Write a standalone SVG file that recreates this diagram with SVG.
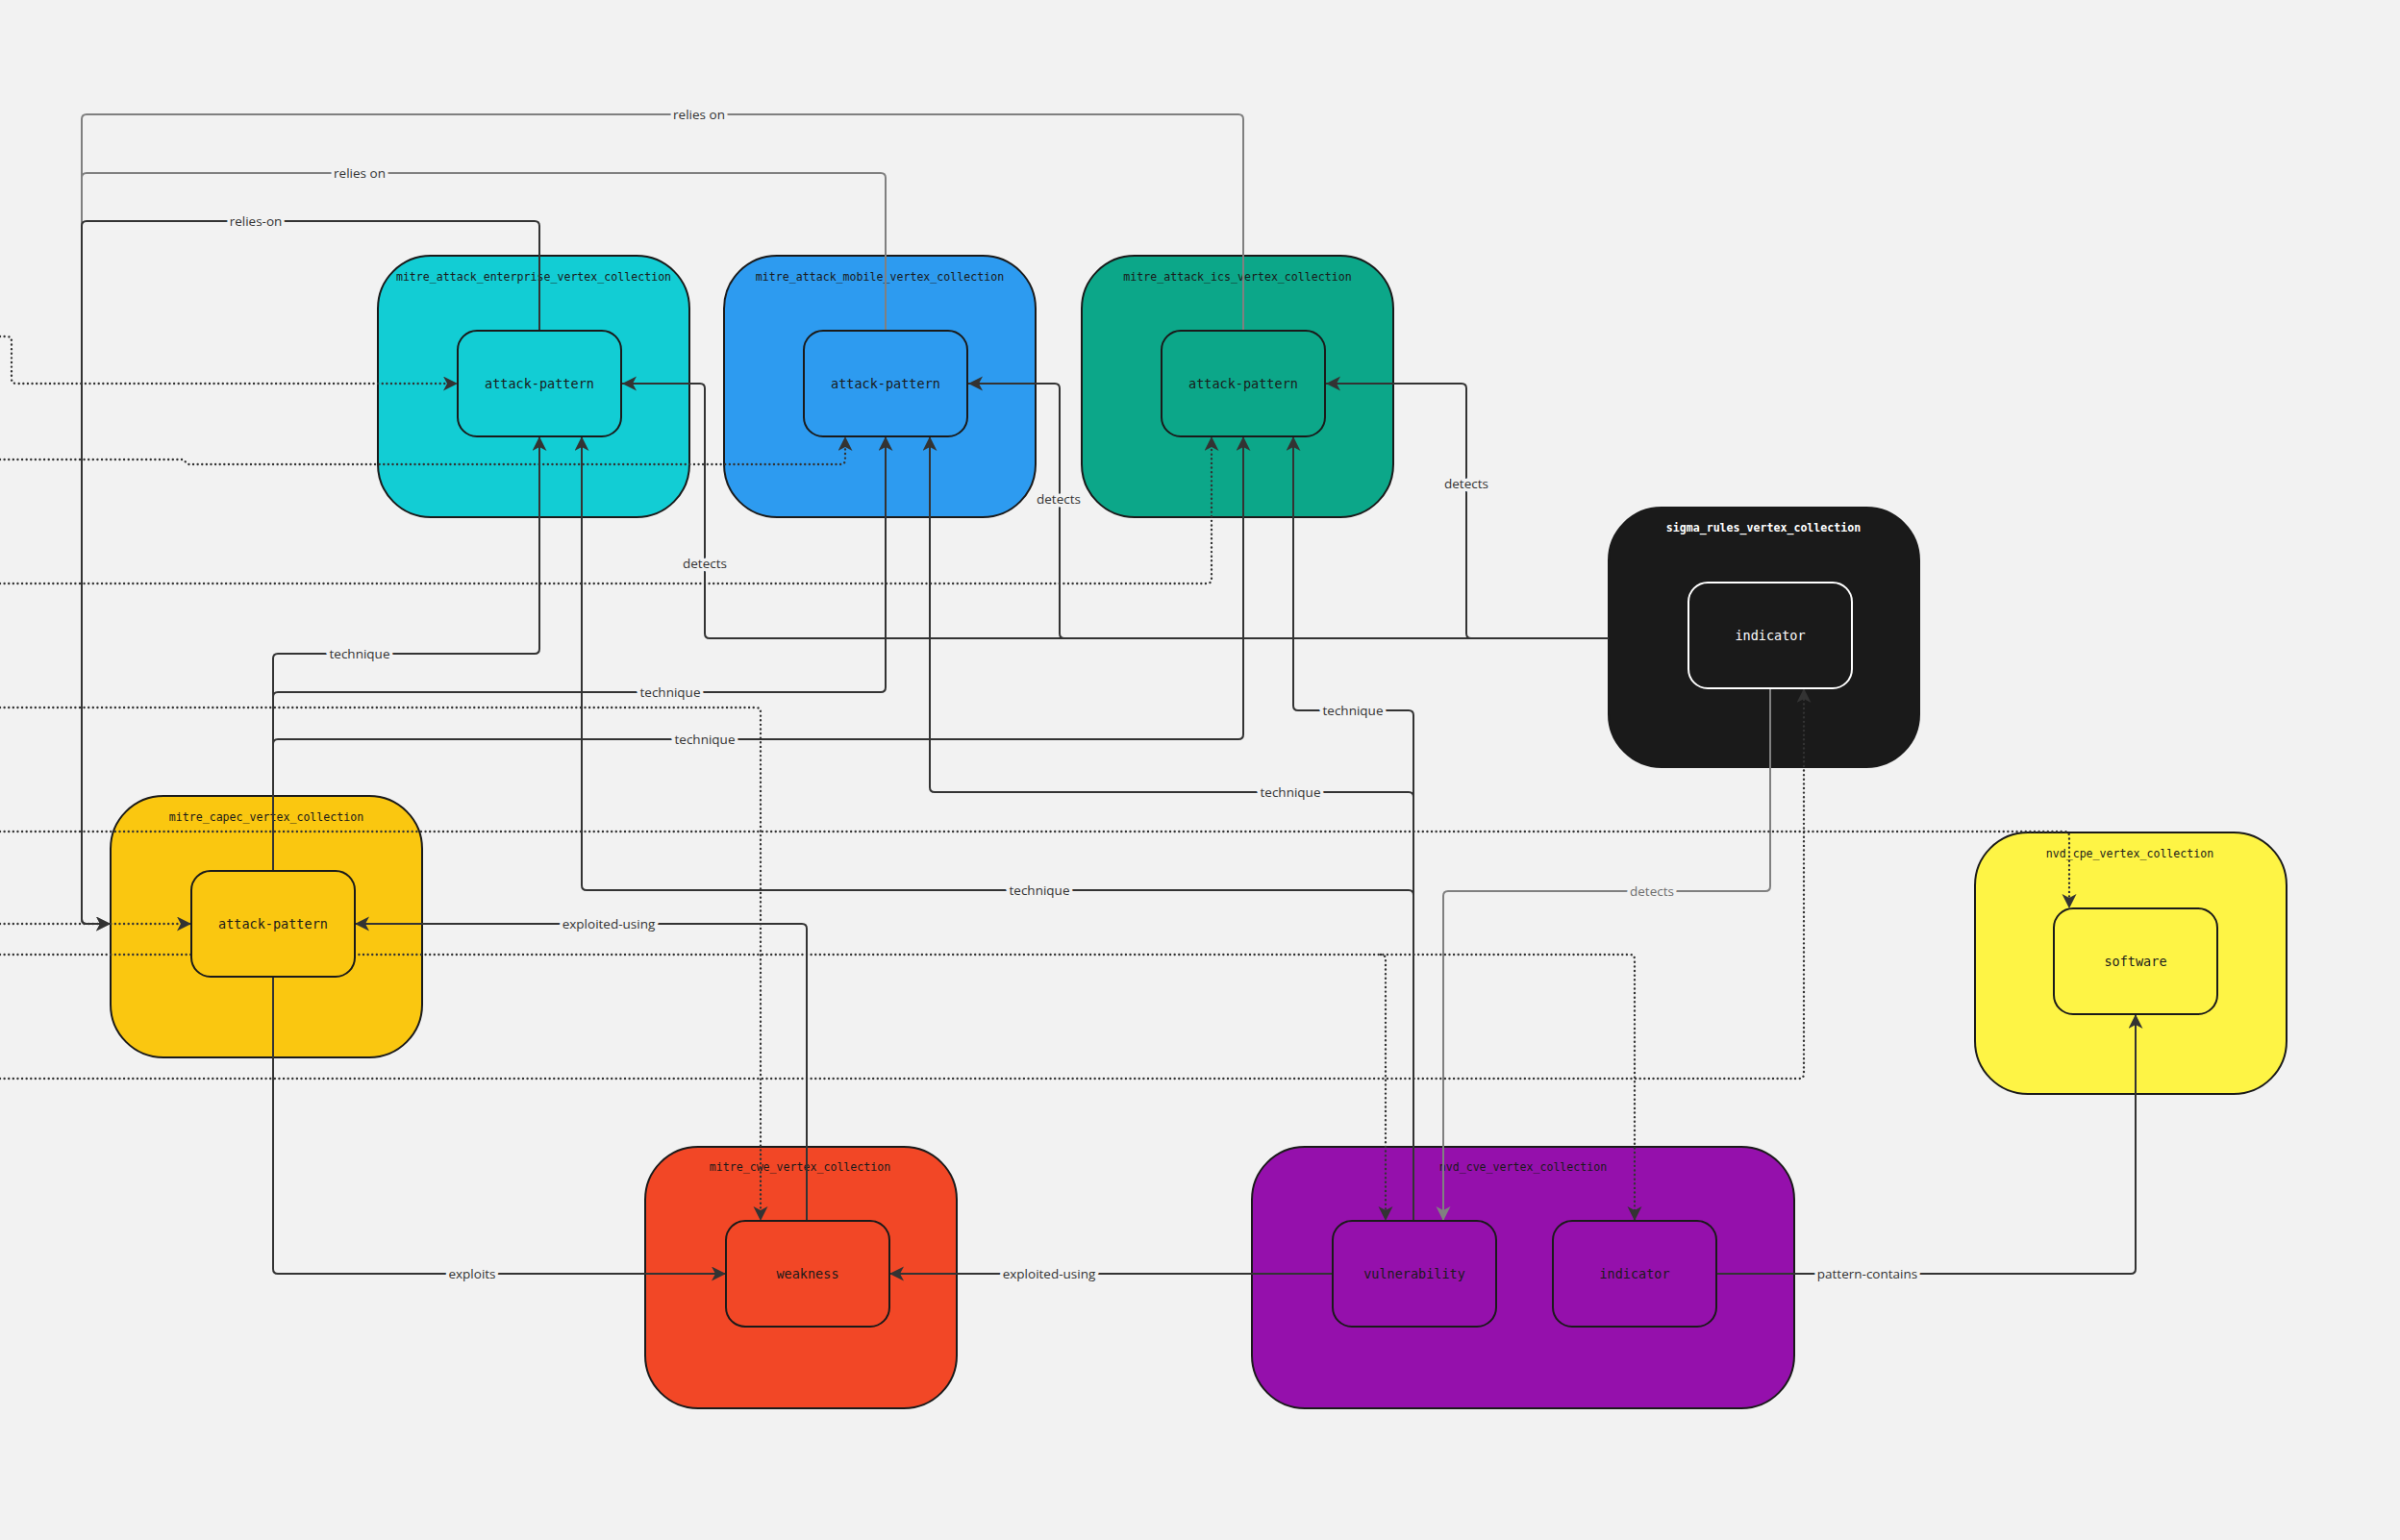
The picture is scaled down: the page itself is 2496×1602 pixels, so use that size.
<svg xmlns="http://www.w3.org/2000/svg" width="2496" height="1602" viewBox="0 0 2496 1602">
<defs>
<style>
.bg{fill:#f2f2f2}
.cont{stroke:#1a1a1a;stroke-width:2}
.node{stroke:#1a1a1a;stroke-width:2}
.clabel{font-family:"DejaVu Sans Mono","Liberation Mono",monospace;font-size:11.6px;fill:#1a1a1a;text-anchor:middle}
.nlabel{font-family:"DejaVu Sans Mono","Liberation Mono",monospace;font-size:13.5px;fill:#1a1a1a;text-anchor:middle}
.e{fill:none;stroke:#333333;stroke-width:2}
.g{fill:none;stroke:#808080;stroke-width:2}
.d{fill:none;stroke:#333333;stroke-width:2.4;stroke-dasharray:0.01 4.6;stroke-linecap:round}
.lbl{font-family:"Open Sans","Liberation Sans",sans-serif;font-size:13.5px;fill:#333333;text-anchor:middle;stroke:#f2f2f2;stroke-width:7;stroke-linejoin:round;paint-order:stroke}
.lg{fill:#6e6e6e}
</style>
<marker id="ah" markerUnits="userSpaceOnUse" markerWidth="16" markerHeight="16" refX="15" refY="7.5" orient="auto">
<path d="M0,0 L15,7.5 L0,15 L4,7.5 Z" fill="#333333"/>
</marker>
<marker id="ahg" markerUnits="userSpaceOnUse" markerWidth="16" markerHeight="16" refX="15" refY="7.5" orient="auto">
<path d="M0,0 L15,7.5 L0,15 L4,7.5 Z" fill="#808080"/>
</marker>
</defs>
<rect class="bg" x="0" y="0" width="2496" height="1602"/>

<g id="mitre_attack_enterprise_vertex_collection">
<rect class="cont" x="393" y="266" width="324" height="272" rx="55" fill="#12cdd4"/>
<text class="clabel" x="555" y="292">mitre_attack_enterprise_vertex_collection</text>
</g>
<g id="mitre_attack_mobile_vertex_collection">
<rect class="cont" x="753" y="266" width="324" height="272" rx="55" fill="#2d9bf0"/>
<text class="clabel" x="915" y="292">mitre_attack_mobile_vertex_collection</text>
</g>
<g id="mitre_attack_ics_vertex_collection">
<rect class="cont" x="1125" y="266" width="324" height="272" rx="55" fill="#0ca789"/>
<text class="clabel" x="1287" y="292">mitre_attack_ics_vertex_collection</text>
</g>
<g id="sigma_rules_vertex_collection">
<rect class="cont" x="1673" y="528" width="323" height="270" rx="55" fill="#1a1a1a" stroke="#e6e6e6"/>
<text class="clabel" x="1834" y="553" style="fill:#ffffff;font-weight:bold">sigma_rules_vertex_collection</text>
</g>
<g id="mitre_capec_vertex_collection">
<rect class="cont" x="115" y="828" width="324" height="272" rx="55" fill="#fac710"/>
<text class="clabel" x="277" y="854">mitre_capec_vertex_collection</text>
</g>
<g id="nvd_cpe_vertex_collection">
<rect class="cont" x="2054" y="866" width="324" height="272" rx="55" fill="#fef445"/>
<text class="clabel" x="2215" y="892">nvd_cpe_vertex_collection</text>
</g>
<g id="mitre_cwe_vertex_collection">
<rect class="cont" x="671" y="1193" width="324" height="272" rx="55" fill="#f24726"/>
<text class="clabel" x="832" y="1218">mitre_cwe_vertex_collection</text>
</g>
<g id="nvd_cve_vertex_collection">
<rect class="cont" x="1302" y="1193" width="564" height="272" rx="55" fill="#9510ac"/>
<text class="clabel" x="1584" y="1218">nvd_cve_vertex_collection</text>
</g>

<g id="connectors">
<path class="g" marker-end="url(#ahg)" d="M1293,344 V124 Q1293,119 1288,119 H90 Q85,119 85,124 V956 Q85,961 90,961 H115"/>
<path class="g" marker-end="url(#ahg)" d="M921,344 V185 Q921,180 916,180 H90 Q85,180 85,185 V956 Q85,961 90,961 H115"/>
<path class="e" marker-end="url(#ah)" d="M561,344 V235 Q561,230 556,230 H90 Q85,230 85,235 V956 Q85,961 90,961 H115"/>
<path class="e" marker-end="url(#ah)" d="M284,906 V685 Q284,680 289,680 H556 Q561,680 561,675 V454"/>
<path class="e" marker-end="url(#ah)" d="M284,906 V725 Q284,720 289,720 H916 Q921,720 921,715 V454"/>
<path class="e" marker-end="url(#ah)" d="M284,906 V774 Q284,769 289,769 H1288 Q1293,769 1293,764 V454"/>
<path class="e" marker-end="url(#ah)" d="M1470,1270 V744 Q1470,739 1465,739 H1350 Q1345,739 1345,734 V454"/>
<path class="e" marker-end="url(#ah)" d="M1470,1270 V829 Q1470,824 1465,824 H972 Q967,824 967,819 V454"/>
<path class="e" marker-end="url(#ah)" d="M1470,1270 V931 Q1470,926 1465,926 H610 Q605,926 605,921 V454"/>
<path class="e" marker-end="url(#ah)" d="M1673,664 H738 Q733,664 733,659 V404 Q733,399 728,399 H647"/>
<path class="e" marker-end="url(#ah)" d="M1673,664 H1107 Q1102,664 1102,659 V404 Q1102,399 1097,399 H1007"/>
<path class="e" marker-end="url(#ah)" d="M1673,664 H1530 Q1525,664 1525,659 V404 Q1525,399 1520,399 H1379"/>
<path class="g" marker-end="url(#ahg)" d="M1841,716 V922 Q1841,927 1836,927 H1506 Q1501,927 1501,932 V1270"/>
<path class="e" marker-end="url(#ah)" d="M839,1270 V966 Q839,961 834,961 H369"/>
<path class="e" marker-end="url(#ah)" d="M284,1016 V1320 Q284,1325 289,1325 H755"/>
<path class="e" marker-end="url(#ah)" d="M1386,1325 H925"/>
<path class="e" marker-end="url(#ah)" d="M1785,1325 H2216 Q2221,1325 2221,1320 V1055"/>

<path class="d" marker-end="url(#ah)" d="M0,350 H7 Q12,350 12,355 V394 Q12,399 17,399 H476"/>
<path class="d" marker-end="url(#ah)" d="M0,478 H190 L196,483 H874 Q879,483 879,478 V454"/>
<path class="d" marker-end="url(#ah)" d="M0,607 H1255 Q1260,607 1260,602 V454"/>
<path class="d" marker-end="url(#ah)" d="M0,736 H786 Q791,736 791,741 V1270"/>
<path class="d" marker-end="url(#ah)" d="M0,865 H2147 Q2152,865 2152,870 V945"/>
<path class="d" marker-end="url(#ah)" d="M0,961 H199"/>
<path class="d" marker-end="url(#ah)" d="M0,993 H1695 Q1700,993 1700,998 V1270"/>
<path class="d" marker-end="url(#ah)" d="M1436,993 Q1441,993 1441,998 V1270"/>
<path class="d" marker-end="url(#ah)" d="M0,1122 H1871 Q1876,1122 1876,1117 V716"/>

<text class="lbl" x="266" y="235">relies-on</text>
<text class="lbl" x="374" y="185">relies on</text>
<text class="lbl" x="727" y="124">relies on</text>
<text class="lbl" x="374" y="685">technique</text>
<text class="lbl" x="697" y="725">technique</text>
<text class="lbl" x="733" y="774">technique</text>
<text class="lbl" x="1407" y="744">technique</text>
<text class="lbl" x="1342" y="829">technique</text>
<text class="lbl" x="1081" y="931">technique</text>
<text class="lbl" x="733" y="591">detects</text>
<text class="lbl" x="1101" y="524">detects</text>
<text class="lbl" x="1525" y="508">detects</text>
<text class="lbl lg" x="1718" y="932">detects</text>
<text class="lbl" x="633" y="966">exploited-using</text>
<text class="lbl" x="491" y="1330">exploits</text>
<text class="lbl" x="1091" y="1330">exploited-using</text>
<text class="lbl" x="1942" y="1330">pattern-contains</text>
</g>

<g id="enterprise_attack_pattern">
<rect class="node" x="476" y="344" width="170" height="110" rx="20" fill="#12cdd4"/>
<text class="nlabel" x="561" y="404">attack-pattern</text>
</g>
<g id="mobile_attack_pattern">
<rect class="node" x="836" y="344" width="170" height="110" rx="20" fill="#2d9bf0"/>
<text class="nlabel" x="921" y="404">attack-pattern</text>
</g>
<g id="ics_attack_pattern">
<rect class="node" x="1208" y="344" width="170" height="110" rx="20" fill="#0ca789"/>
<text class="nlabel" x="1293" y="404">attack-pattern</text>
</g>
<g id="sigma_indicator">
<rect class="node" x="1756" y="606" width="170" height="110" rx="20" fill="#1a1a1a" style="stroke:#ffffff"/>
<text class="nlabel" x="1841" y="666" style="fill:#ffffff">indicator</text>
</g>
<g id="capec_attack_pattern">
<rect class="node" x="199" y="906" width="170" height="110" rx="20" fill="#fac710"/>
<text class="nlabel" x="284" y="966">attack-pattern</text>
</g>
<g id="cpe_software">
<rect class="node" x="2136" y="945" width="170" height="110" rx="20" fill="#fef445"/>
<text class="nlabel" x="2221" y="1005">software</text>
</g>
<g id="cwe_weakness">
<rect class="node" x="755" y="1270" width="170" height="110" rx="20" fill="#f24726"/>
<text class="nlabel" x="840" y="1330">weakness</text>
</g>
<g id="cve_vulnerability">
<rect class="node" x="1386" y="1270" width="170" height="110" rx="20" fill="#9510ac"/>
<text class="nlabel" x="1471" y="1330">vulnerability</text>
</g>
<g id="cve_indicator">
<rect class="node" x="1615" y="1270" width="170" height="110" rx="20" fill="#9510ac"/>
<text class="nlabel" x="1700" y="1330">indicator</text>
</g>
</svg>
